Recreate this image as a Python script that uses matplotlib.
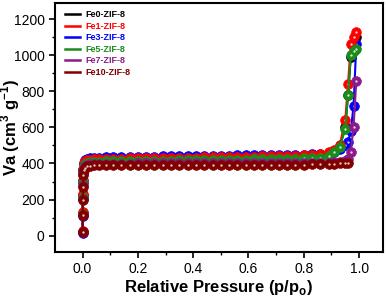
import matplotlib.pyplot as plt
import numpy as np
from matplotlib.lines import Line2D

plt.rcParams['font.family'] = ['Liberation Sans', 'DejaVu Sans']

# relative pressure points (shared by all samples)
p = [0.0001, 0.0003, 0.0007, 0.0015, 0.003, 0.006, 0.01, 0.016, 0.025, 0.04,
     0.06, 0.085, 0.11, 0.14, 0.17, 0.2, 0.23, 0.26, 0.29, 0.32,
     0.35, 0.38, 0.41, 0.44, 0.47, 0.5, 0.53, 0.56, 0.59, 0.62,
     0.65, 0.68, 0.71, 0.74, 0.77, 0.8, 0.83, 0.86, 0.89, 0.91,
     0.93, 0.95, 0.96, 0.97, 0.98, 0.99]

nan = np.nan
fe0 = [22, 125, 225, 305, 365, 395, 408, 414, 417, 419,
       420, 421, 422, 423, 424, 424, 425, 426, 426, 427,
       428, 428, 429, 430, 430, 431, 432, 432, 433, 434,
       435, 436, 437, 438, 439, 440, 442, 445, 455, 468,
       495, 600, 780, 990, 1060, 1100]
fe1 = [25, 130, 230, 310, 370, 400, 412, 418, 421, 423,
       424, 425, 426, 427, 428, 428, 429, 430, 430, 431,
       432, 432, 433, 434, 434, 435, 436, 436, 437, 438,
       439, 440, 441, 442, 443, 445, 447, 450, 462, 474,
       500, 640, 840, 1060, 1100, 1130]
fe3 = [15, 110, 210, 300, 365, 405, 420, 427, 430, 432,
       433, 434, 435, 436, 436, 437, 438, 438, 439, 440,
       440, 441, 442, 442, 443, 444, 444, 445, 446, 446,
       447, 447, 448, 448, 449, 449, 450, 451, 458, 466,
       478, 500, 520, 580, 720, 1060]
fe5 = [20, 120, 215, 295, 355, 385, 398, 404, 407, 409,
       410, 411, 411, 412, 413, 413, 414, 415, 415, 416,
       417, 417, 418, 419, 419, 420, 421, 421, 422, 423,
       423, 424, 425, 426, 427, 428, 429, 432, 442, 462,
       492, 590, 780, 1000, 1025, 1035]
fe7 = [18, 115, 205, 280, 340, 370, 385, 392, 395, 397,
       398, 398, 399, 399, 399, 400, 400, 400, 400, 401,
       401, 401, 401, 402, 402, 402, 402, 402, 403, 403,
       403, 403, 404, 404, 404, 404, 405, 405, 405, 406,
       407, 412, 425, 465, 600, 860]
fe10 = [20, 115, 200, 270, 335, 362, 376, 384, 388, 389,
        389, 389, 389, 390, 390, 390, 390, 390, 391, 391,
        391, 391, 391, 392, 392, 392, 392, 392, 393, 393,
        393, 393, 394, 394, 394, 394, 395, 395, 396, 398,
        400, 403, 405, nan, nan, nan]

labels = ['Fe0-ZIF-8', 'Fe1-ZIF-8', 'Fe3-ZIF-8', 'Fe5-ZIF-8', 'Fe7-ZIF-8', 'Fe10-ZIF-8']
colors = ['#000000', '#ff0000', '#0000ff', '#1a8c1a', '#8b1a8b', '#800000']
series = [fe0, fe1, fe3, fe5, fe7, fe10]

fig = plt.figure(figsize=(3.87, 2.97), dpi=100)
ax = fig.add_axes([0.142, 0.152, 0.848, 0.838])

# drawing order (red sits over blue in the picture)
order = [0, 2, 1, 3, 4, 5]
for i in order:
    ax.plot(p, series[i], '-', color=colors[i], lw=1.5, marker='o', ms=7,
            mfc=colors[i], mec=colors[i], mew=0.5)
    ax.plot(p, series[i], 'o', color='white', ms=1.7, alpha=0.8, mew=0)

handles = [Line2D([0], [0], color=c, lw=1.8) for c in colors]
leg = ax.legend(handles, labels, loc='upper left', frameon=False,
                prop={'weight': 'bold', 'size': 6.5}, handlelength=1.6,
                handletextpad=0.6, labelspacing=0.28,
                borderaxespad=0.0, bbox_to_anchor=(0.02, 0.985))
for txt, c in zip(leg.get_texts(), colors):
    txt.set_color(c)

ax.set_xlim(-0.10, 1.087)
ax.set_ylim(-90, 1290)
ax.set_xticks([0.0, 0.2, 0.4, 0.6, 0.8, 1.0])
ax.set_xticks(np.arange(0.1, 1.0, 0.2), minor=True)
ax.set_yticks(range(0, 1201, 200))
ax.set_yticks(range(100, 1200, 200), minor=True)
ax.tick_params(labelsize=10, width=1.2, length=4)
ax.tick_params(which='minor', width=1.0, length=2.5)
for s in ax.spines.values():
    s.set_linewidth(1.5)

ax.set_xlabel('Relative Pressure (p/p$_\\mathregular{o}$)', fontsize=12,
              fontweight='bold', labelpad=1)
ax.set_ylabel('Va (cm$^\\mathregular{3}$ g$^\\mathregular{-1}$)', fontsize=12,
              fontweight='bold')
ax.yaxis.set_label_coords(-0.1, 0.5)

fig.savefig('out.png', dpi=100)
